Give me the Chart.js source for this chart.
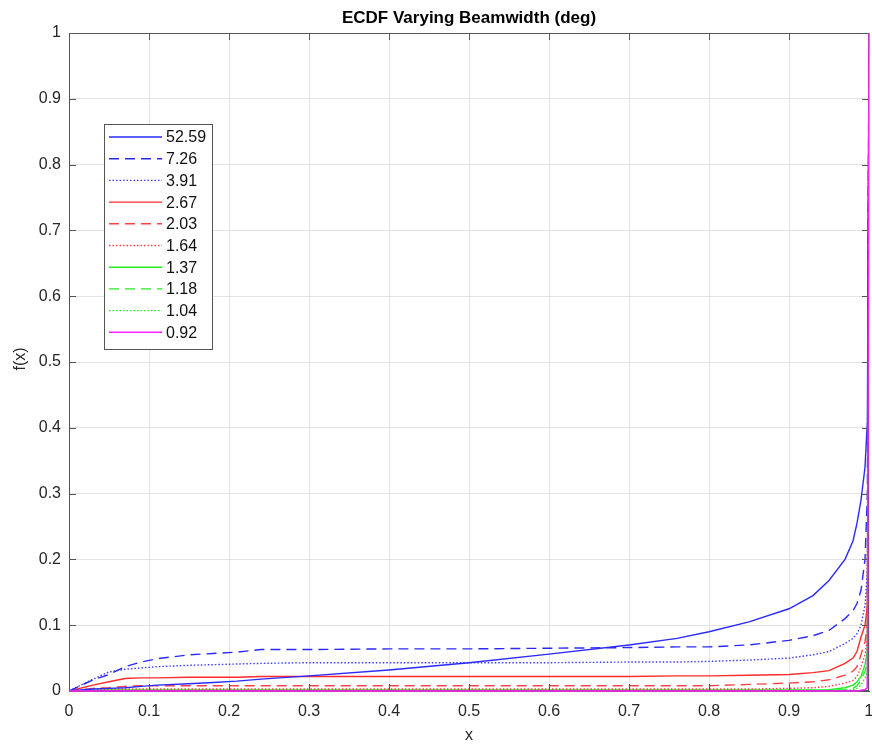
<!DOCTYPE html>
<html>
<head>
<meta charset="utf-8">
<title>ECDF Varying Beamwidth</title>
<script src="https://cdn.jsdelivr.net/npm/chart.js@4.4.0/dist/chart.umd.min.js"></script>
<style>
  body { margin: 0; background: #fff; }
  #wrap { width: 872px; height: 744px; }
</style>
</head>
<body>
<div id="wrap"><canvas id="myChart" width="872" height="744"></canvas></div>
<script>
// sample points along x (shared by all curves)
const xs = [0, 0.03, 0.05, 0.07, 0.09, 0.11, 0.15, 0.18, 0.21, 0.24, 0.3, 0.4, 0.5, 0.6, 0.7, 0.76, 0.8, 0.85, 0.9, 0.93, 0.95, 0.97, 0.98, 0.985, 0.99, 0.995, 0.998, 1];

// legend labels = beamwidth in degrees
const beamwidths = ['52.59', '7.26', '3.91', '2.67', '2.03', '1.64', '1.37', '1.18', '1.04', '0.92'];

// ECDF values
const bw5259 = [0, 0.003, 0.004, 0.005, 0.007, 0.009, 0.011, 0.013, 0.015, 0.018, 0.023, 0.032, 0.043, 0.056, 0.070, 0.080, 0.090, 0.105, 0.125, 0.145, 0.168, 0.200, 0.228, 0.255, 0.290, 0.340, 0.410, 1];
const bw726 = [0, 0.017, 0.025, 0.037, 0.044, 0.049, 0.055, 0.057, 0.059, 0.063, 0.063, 0.064, 0.064, 0.065, 0.066, 0.067, 0.067, 0.070, 0.077, 0.084, 0.092, 0.110, 0.122, 0.133, 0.153, 0.200, 0.300, 1];
const bw391 = [0, 0.018, 0.029, 0.033, 0.035, 0.037, 0.039, 0.040, 0.041, 0.042, 0.043, 0.043, 0.043, 0.043, 0.044, 0.044, 0.045, 0.047, 0.050, 0.055, 0.060, 0.072, 0.080, 0.087, 0.100, 0.130, 0.180, 1];
const bw267 = [0, 0.009, 0.014, 0.019, 0.020, 0.020, 0.021, 0.021, 0.021, 0.022, 0.022, 0.022, 0.022, 0.022, 0.022, 0.023, 0.023, 0.024, 0.025, 0.028, 0.031, 0.042, 0.050, 0.060, 0.082, 0.100, 0.130, 1];
const bw203 = [0, 0.004, 0.005, 0.007, 0.008, 0.008, 0.008, 0.008, 0.008, 0.008, 0.008, 0.008, 0.008, 0.008, 0.008, 0.008, 0.008, 0.010, 0.012, 0.014, 0.017, 0.024, 0.030, 0.037, 0.055, 0.075, 0.100, 1];
const bw164 = [0, 0.002, 0.003, 0.003, 0.003, 0.003, 0.003, 0.003, 0.003, 0.003, 0.003, 0.003, 0.003, 0.003, 0.003, 0.003, 0.003, 0.003, 0.004, 0.005, 0.007, 0.012, 0.016, 0.022, 0.037, 0.055, 0.080, 1];
const bw137 = [0, 0.001, 0.0015, 0.0015, 0.0015, 0.0015, 0.0015, 0.0015, 0.0015, 0.0015, 0.0015, 0.0015, 0.0015, 0.0015, 0.0015, 0.0015, 0.0015, 0.0015, 0.0015, 0.0015, 0.002, 0.005, 0.009, 0.014, 0.022, 0.040, 0.060, 1];
const bw118 = [0, 0.0005, 0.0008, 0.0008, 0.0008, 0.0008, 0.0008, 0.0008, 0.0008, 0.0008, 0.0008, 0.0008, 0.0008, 0.0008, 0.0008, 0.0008, 0.0008, 0.0008, 0.0008, 0.0008, 0.001, 0.002, 0.004, 0.008, 0.017, 0.030, 0.045, 1];
const bw104 = [0, 0.0003, 0.0005, 0.0005, 0.0005, 0.0005, 0.0005, 0.0005, 0.0005, 0.0005, 0.0005, 0.0005, 0.0005, 0.0005, 0.0005, 0.0005, 0.0005, 0.0005, 0.0005, 0.0005, 0.0005, 0.001, 0.002, 0.004, 0.009, 0.020, 0.030, 1];
const bw092 = [0, 0, 0, 0, 0, 0, 0, 0, 0, 0, 0, 0, 0, 0, 0, 0, 0, 0, 0, 0, 0, 0, 0, 0, 0.001, 0.002, 0.005, 1];

const tickLabels = ['0', '0.1', '0.2', '0.3', '0.4', '0.5', '0.6', '0.7', '0.8', '0.9', '1'];

const allValues = [bw5259, bw726, bw391, bw267, bw203, bw164, bw137, bw118, bw104, bw092];
const colors = ['#2a2aff', '#2a2aff', '#3c3cff', '#ff2a2a', '#ff4040', '#ff4040', '#22ee22', '#22ee22', '#22ee22', '#ff22ff'];
const dashes = [[], [10, 6], [1.5, 2], [], [10, 6], [1.5, 2], [], [10, 6], [1.5, 2], []];

const FONT = '"Liberation Sans", Arial, Helvetica, sans-serif';
const AXIS_COLOR = '#555555';
const TEXT_COLOR = '#262626';

const datasets = allValues.map((vals, i) => ({
  label: beamwidths[i],
  data: xs.map((x, j) => ({ x: x, y: vals[j] })),
  borderColor: colors[i],
  backgroundColor: colors[i],
  borderWidth: 1.4,
  borderDash: dashes[i],
  pointRadius: 0,
  tension: 0,
  fill: false
}));

// frame, inward ticks, titles and the boxed legend, matlab style
const matlabDecor = {
  id: 'matlabDecor',
  afterDraw(chart) {
    const ctx = chart.ctx;
    const a = chart.chartArea;
    const sx = chart.scales.x, sy = chart.scales.y;
    ctx.save();

    // box
    ctx.strokeStyle = AXIS_COLOR;
    ctx.lineWidth = 1;
    ctx.setLineDash([]);
    ctx.strokeRect(a.left + 0.5, a.top + 0.5, a.right - a.left - 1, a.bottom - a.top - 1);

    // inward ticks on all four sides
    const tl = 7;
    ctx.beginPath();
    for (let k = 1; k < 10; k++) {
      const px = Math.round(sx.getPixelForValue(k / 10)) + 0.5;
      ctx.moveTo(px, a.bottom); ctx.lineTo(px, a.bottom - tl);
      ctx.moveTo(px, a.top); ctx.lineTo(px, a.top + tl);
      const py = Math.round(sy.getPixelForValue(k / 10)) + 0.5;
      ctx.moveTo(a.left, py); ctx.lineTo(a.left + tl, py);
      ctx.moveTo(a.right, py); ctx.lineTo(a.right - tl, py);
    }
    ctx.stroke();

    // magenta curve sits on top of the right edge, redraw it
    const meta = chart.getDatasetMeta(9);
    if (meta && meta.dataset) meta.dataset.draw(ctx, a);

    // title
    ctx.fillStyle = '#000';
    ctx.font = 'bold 17px ' + FONT;
    ctx.textAlign = 'center';
    ctx.textBaseline = 'middle';
    ctx.fillText('ECDF Varying Beamwidth (deg)', (a.left + a.right) / 2, 18);

    // axis titles
    ctx.fillStyle = TEXT_COLOR;
    ctx.font = '16px ' + FONT;
    ctx.fillText('x', (a.left + a.right) / 2, 736);
    ctx.save();
    ctx.translate(21, (a.top + a.bottom) / 2 - 3);
    ctx.rotate(-Math.PI / 2);
    ctx.fillText('f(x)', 0, 0);
    ctx.restore();

    // legend box
    const lx = 104, ly = 124, lw = 108, lh = 225;
    ctx.fillStyle = '#fff';
    ctx.fillRect(lx, ly, lw, lh);
    ctx.strokeStyle = AXIS_COLOR;
    ctx.lineWidth = 1;
    ctx.strokeRect(lx + 0.5, ly + 0.5, lw, lh);
    ctx.font = '16px ' + FONT;
    ctx.textAlign = 'left';
    ctx.textBaseline = 'middle';
    chart.data.datasets.forEach((ds, i) => {
      const y = 137 + i * 21.7;
      ctx.strokeStyle = ds.borderColor;
      ctx.lineWidth = 1.4;
      ctx.setLineDash(ds.borderDash);
      ctx.beginPath();
      ctx.moveTo(109, y);
      ctx.lineTo(162, y);
      ctx.stroke();
      ctx.setLineDash([]);
      ctx.fillStyle = '#111';
      ctx.fillText(ds.label, 166, y + 1);
    });
    ctx.restore();
  }
};

new Chart(document.getElementById('myChart').getContext('2d'), {
  type: 'line',
  data: { datasets: datasets },
  options: {
    responsive: false,
    animation: false,
    devicePixelRatio: 1,
    layout: { padding: { top: 33, right: 3, left: 0, bottom: 0 } },
    plugins: {
      legend: { display: false },
      title: { display: false },
      tooltip: { enabled: false }
    },
    scales: {
      x: {
        type: 'linear',
        min: 0, max: 1,
        afterFit: (s) => { s.height = 53; s.paddingLeft = 0; s.paddingRight = 0; },
        afterBuildTicks: (s) => { s.ticks = tickLabels.map((t, i) => ({ value: i / 10 })); },
        grid: { color: '#e3e3e3', drawTicks: false },
        border: { display: true, color: AXIS_COLOR },
        ticks: {
          padding: 11,
          color: TEXT_COLOR,
          font: { family: FONT, size: 16 },
          maxRotation: 0,
          callback: (v, i) => tickLabels[i]
        }
      },
      y: {
        type: 'linear',
        min: 0, max: 1,
        afterFit: (s) => { s.width = 69; s.paddingTop = 0; s.paddingBottom = 0; },
        afterBuildTicks: (s) => { s.ticks = tickLabels.map((t, i) => ({ value: i / 10 })); },
        grid: { color: '#e3e3e3', drawTicks: false },
        border: { display: true, color: AXIS_COLOR },
        ticks: {
          padding: 8,
          color: TEXT_COLOR,
          font: { family: FONT, size: 16 },
          callback: (v, i) => tickLabels[i]
        }
      }
    }
  },
  plugins: [matlabDecor]
});
</script>
</body>
</html>
